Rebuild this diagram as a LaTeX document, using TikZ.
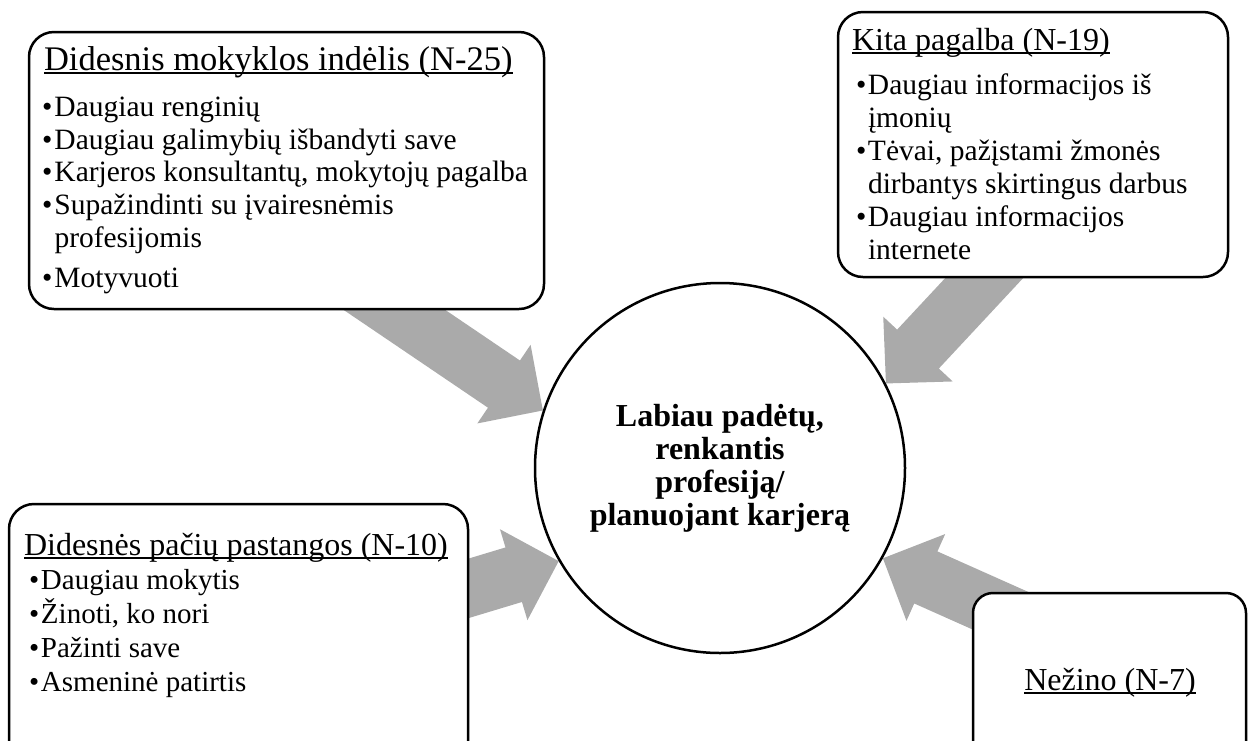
\documentclass[tikz,border=0pt]{standalone}
\usepackage{fontspec}
\setmainfont{Liberation Serif}
\usetikzlibrary{calc,backgrounds}
\definecolor{arrowgray}{RGB}{170,170,170}
\newcommand\ulbox[1]{\setbox0\hbox{#1}\rlap{\rule[-0.12em]{\wd0}{0.05em}}\box0}
\newcommand\bul[1]{\makebox[#1][l]{•}}
\newcommand\blockarrow[2]{%
  \path ($(#2)!47pt!(#1)$) coordinate (ahb);
  \fill[arrowgray] (#2)
    -- ($(ahb)!47.5pt!90:(#2)$) -- ($(ahb)!28.5pt!90:(#2)$)
    -- ($(#1)!28.5pt!90:(#2)$) -- ($(#1)!28.5pt!-90:(#2)$)
    -- ($(ahb)!28.5pt!-90:(#2)$) -- ($(ahb)!47.5pt!-90:(#2)$) -- cycle;
}
\tikzset{
  boxshape/.style={draw, line width=2.5pt, rounded corners=25pt, fill=white,
    anchor=north west, inner sep=0pt, outer sep=0pt},
  linetext/.style={anchor=base west, inner sep=0pt, outer sep=0pt},
  bodyfont/.style={font=\fontsize{29.5}{33}\selectfont},
  headfont/.style={font=\fontsize{32}{36}\selectfont},
}
\begin{document}
\begin{tikzpicture}[x=1pt,y=-1pt]
\useasboundingbox (0,0) rectangle (1248,740);
\clip (0,0) rectangle (1248,740);

% boxes
\node[boxshape, minimum width=515pt, minimum height=277pt] (box1) at (29,32) {};
\node[boxshape, minimum width=390pt, minimum height=265pt] (box2) at (838,12) {};
\node[boxshape, minimum width=459pt, minimum height=286pt] (box3) at (9,504) {};
\node[boxshape, rounded corners=20pt, minimum width=273pt, minimum height=178pt] (box4) at (973,593) {};

% central circle
\node[circle, draw, line width=2.5pt, fill=white, minimum size=370pt, inner sep=0pt,
  align=center, font=\bfseries\fontsize{32}{33}\selectfont] (circ) at (720,468)
  {Labiau padėtų,\\renkantis\\profesiją/\\planuojant karjerą};

% box 1 text
\node[linetext, font=\fontsize{34.5}{38}\selectfont] (h1) at (44,70) {\ulbox{Didesnis mokyklos indėlis (N-25)}};
\node[linetext, bodyfont] (a1) at (42,116.5) {\bul{12.5pt}Daugiau renginių};
\node[linetext, bodyfont] (a2) at (42,149) {\bul{12.5pt}Daugiau galimybių išbandyti save};
\node[linetext, bodyfont] (a3) at (42,181) {\bul{12.5pt}Karjeros konsultantų, mokytojų pagalba};
\node[linetext, bodyfont] (a4) at (42,214) {\bul{12.5pt}Supažindinti su įvairesnėmis};
\node[linetext, bodyfont] (a5) at (42,247) {\hspace{12.5pt}profesijomis};
\node[linetext, bodyfont] (a6) at (42,287) {\bul{12.5pt}Motyvuoti};

% box 2 text
\node[linetext, headfont] (h2) at (852,50) {\ulbox{Kita pagalba (N-19)}};
\node[linetext, bodyfont] (b1) at (856,94) {\bul{12pt}Daugiau informacijos iš};
\node[linetext, bodyfont] (b2) at (856,127) {\hspace{12pt}įmonių};
\node[linetext, bodyfont] (b3) at (856,160.5) {\bul{12pt}Tėvai, pažįstami žmonės};
\node[linetext, bodyfont] (b4) at (856,193.5) {\hspace{12pt}dirbantys skirtingus darbus};
\node[linetext, bodyfont] (b5) at (856,226.5) {\bul{12pt}Daugiau informacijos};
\node[linetext, bodyfont] (b6) at (856,259) {\hspace{12pt}internete};

% box 3 text
\node[linetext, headfont] (h3) at (24,555) {\ulbox{Didesnės pačių pastangos (N-10)}};
\node[linetext, font=\fontsize{29}{33}\selectfont] (c1) at (29,589) {\bul{12pt}Daugiau mokytis};
\node[linetext, font=\fontsize{29}{33}\selectfont] (c2) at (29,623) {\bul{12pt}Žinoti, ko nori};
\node[linetext, font=\fontsize{29}{33}\selectfont] (c3) at (29,657) {\bul{12pt}Pažinti save};
\node[linetext, font=\fontsize{29}{33}\selectfont] (c4) at (29,691) {\bul{12pt}Asmeninė patirtis};

% box 4 text
\node[anchor=base, inner sep=0pt, headfont] (h4) at (1110,690) {\ulbox{Nežino (N-7)}};

% arrow start points (hidden behind boxes)
\coordinate (s1) at (337,271);
\coordinate (s2) at (1056,201);
\coordinate (s3) at (367,619);
\coordinate (s4) at (1111,660);

\begin{scope}[on background layer]
  \blockarrow{s1}{circ.162.7}
  \blockarrow{s2}{circ.27}
  \blockarrow{s3}{circ.210.5}
  \blockarrow{s4}{circ.331.5}
\end{scope}
\end{tikzpicture}
\end{document}
